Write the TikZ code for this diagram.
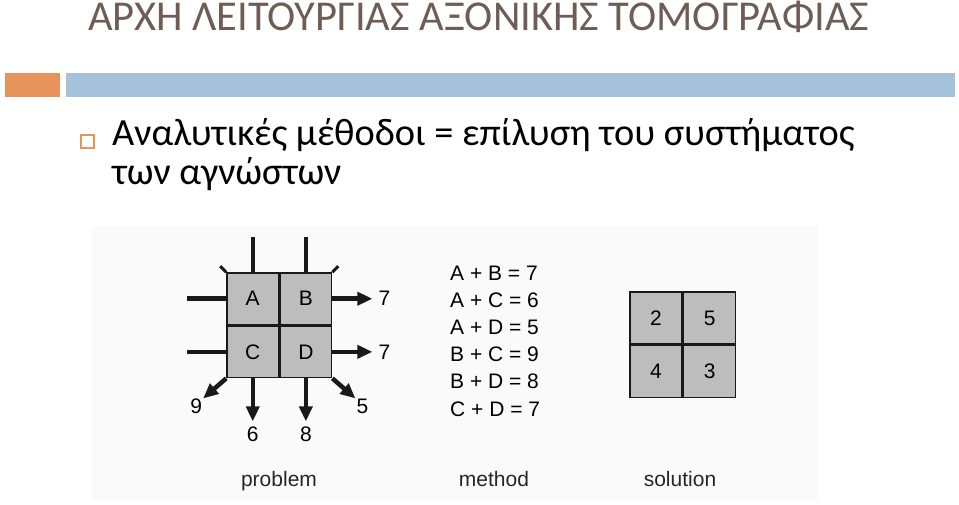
\documentclass[tikz,border=0pt]{standalone}
\usepackage{fontspec}
\setmainfont{Carlito}
\newfontfamily\arialfont{Liberation Sans}
\usepackage{xcolor}
\usetikzlibrary{arrows.meta,positioning}

\definecolor{titrecol}{HTML}{6E5C55}
\definecolor{orangebar}{HTML}{E6945A}
\definecolor{bluebar}{HTML}{A6C2DA}
\definecolor{cellgray}{HTML}{BDBDBD}
\definecolor{scanbg}{HTML}{FAFAFA}

\tikzset{
  cell/.style={draw=black!90, line width=1.6pt, fill=cellgray, minimum size=51.5pt,
    inner sep=0pt, font=\arialfont\fontsize{21}{24}\selectfont},
  ray/.style={line width=4.5pt, black!90},
  rayout/.style={ray, -{Triangle[length=15pt,width=13pt]}},
  lbl/.style={inner sep=0pt, font=\arialfont\fontsize{21}{24}\selectfont},
  eq/.style={lbl, anchor=base west},
  caption/.style={inner sep=0pt, anchor=base, text=black!85,
    font=\arialfont\fontsize{21}{24}\selectfont},
}

\begin{document}
\begin{tikzpicture}[x=1pt,y=-1pt]
      \useasboundingbox (0,0) rectangle (959,505);

      % En-tete
      \node[anchor=base west, inner sep=0pt, text=titrecol,
        font=\fontsize{42.5}{45}\selectfont] (titre) at (88,31)
        {ΑΡΧΗ ΛΕΙΤΟΥΡΓΙΑΣ ΑΞΟΝΙΚΗΣ ΤΟΜΟΓΡΑΦΙΑΣ};
      \fill[orangebar] (5,73) rectangle (60,97);
      \fill[bluebar] (66,73) rectangle (955,97);

      % Puce et texte
      \draw[orangebar, line width=1.3pt] (81,135) rectangle (94,148);
      \node[anchor=base west, inner sep=0pt, font=\fontsize{38.4}{42}\selectfont]
        (ligneA) at (112,146) {Αναλυτικές μέθοδοι = επίλυση του συστήματος};
      \node[anchor=base west, inner sep=0pt, font=\fontsize{38.4}{42}\selectfont]
        (ligneB) at (112,185) {των αγνώστων};

      % Fond de la figure
      \fill[scanbg] (92,226) rectangle (818,500);

      % Probleme
      \node[cell] (A) at (252.75,298.75) {A};
      \node[cell, right=0pt of A] (B) {B};
      \node[cell, below=0pt of A] (C) {C};
      \node[cell, right=0pt of C] (D) {D};

      \coordinate[above=35pt of A.north] (hA);
      \coordinate[above=35pt of B.north] (hB);
      \coordinate[left=39pt of A.west] (gA);
      \coordinate[left=39pt of C.west] (gC);
      \draw[ray] (hA) -- (A.north);
      \draw[ray] (hB) -- (B.north);
      \draw[ray] (gA) -- (A.west);
      \draw[ray] (gC) -- (C.west);
      \draw[ray, line width=3pt] ([xshift=-6pt,yshift=6pt]A.north west) -- (A.north west);
      \draw[ray, line width=3pt] ([xshift=6pt,yshift=6pt]B.north east) -- (B.north east);

      \coordinate[right=40pt of B.east] (dB);
      \coordinate[right=40pt of D.east] (dD);
      \coordinate[below=43pt of C.south] (bC);
      \coordinate[below=43pt of D.south] (bD);
      \coordinate (sw) at ([xshift=-23pt,yshift=-20pt]C.south west);
      \coordinate (se) at ([xshift=23pt,yshift=-20pt]D.south east);
      \draw[rayout] (B.east) -- (dB);
      \draw[rayout] (D.east) -- (dD);
      \draw[rayout] (C.south) -- (bC);
      \draw[rayout] (D.south) -- (bD);
      \draw[rayout] (C.south west) -- (sw);
      \draw[rayout] (D.south east) -- (se);

      % Sommes
      \node[lbl, right=6pt of dB] (sB) {7};
      \node[lbl, right=6pt of dD] (sD) {7};
      \node[lbl, below=5pt of bC] (sC) {6};
      \node[lbl, below=5pt of bD] (sDb) {8};
      \node[lbl] (ssw) at ([xshift=-30pt,yshift=-28pt]C.south west) {9};
      \node[lbl] (sse) at ([xshift=30pt,yshift=-28pt]D.south east) {5};

      % Methode
      \node[eq] (eqAB) at (450,280) {A + B = 7};
      \node[eq] (eqAC) at (450,307.2) {A + C = 6};
      \node[eq] (eqAD) at (450,334.4) {A + D = 5};
      \node[eq] (eqBC) at (450,361.6) {B + C = 9};
      \node[eq] (eqBD) at (450,388.8) {B + D = 8};
      \node[eq] (eqCD) at (450,416) {C + D = 7};

      % Solution
      \node[cell, minimum size=52pt] (solA) at (656,318) {2};
      \node[cell, minimum size=52pt, right=0pt of solA] (solB) {5};
      \node[cell, minimum size=52pt, below=0pt of solA] (solC) {4};
      \node[cell, minimum size=52pt, right=0pt of solC] (solD) {3};

      % Legendes
      \node[caption] (cProb) at (279,486) {problem};
      \node[caption] (cMeth) at (494,486) {method};
      \node[caption] (cSol) at (680,486) {solution};
    \end{tikzpicture}
\end{document}
